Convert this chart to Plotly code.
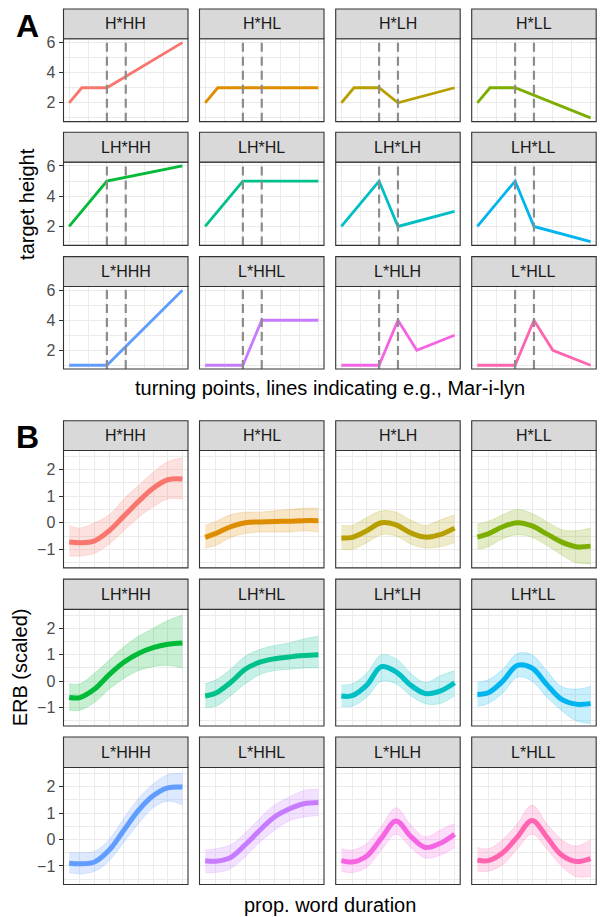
import plotly.graph_objects as go

W, H = 600, 917

facets = ["H*HH", "H*HL", "H*LH", "H*LL",
          "LH*HH", "LH*HL", "LH*LH", "LH*LL",
          "L*HHH", "L*HHL", "L*HLH", "L*HLL"]
colors = ["#F8766D", "#DE8C00", "#B79F00", "#7CAE00", "#00BA38", "#00C08B",
          "#00BFC4", "#00B4F0", "#619CFF", "#C77CFF", "#F564E3", "#FF64B0"]

# ---- Panel A: target heights at turning points ----
tp_x = [[0, 0.67, 2, 6], [0, 0.67, 6], [0, 0.67, 2, 3, 6], [0, 0.67, 2, 6],
        [0, 2, 6], [0, 2, 6], [0, 2, 3, 6], [0, 2, 3, 6],
        [0, 2, 6], [0, 2, 3, 6], [0, 2, 3, 4, 6], [0, 2, 3, 4, 6]]
tp_y = [[2, 3, 3, 6], [2, 3, 3], [2, 3, 3, 2, 3], [2, 3, 3, 1],
        [2, 5, 6], [2, 5, 5], [2, 5, 2, 3], [2, 5, 2, 1],
        [1, 1, 6], [1, 1, 4, 4], [1, 1, 4, 2, 3], [1, 1, 4, 2, 1]]
seg_lines = [2, 3]
a_yticks = [2, 4, 6]
a_yminor = [1, 3, 5]
a_xgrid = [0, 1, 2, 3, 4, 5, 6]

# ---- Panel B: ERB contours (mean and spread envelope) ----
b_x = [0.033, 0.125, 0.25, 0.375, 0.5, 0.625, 0.75, 0.875, 1.0]
b_mean = [
    [-0.72, -0.75, -0.68, -0.30, 0.25, 0.80, 1.30, 1.62, 1.65],
    [-0.55, -0.40, -0.15, 0.00, 0.03, 0.05, 0.06, 0.08, 0.08],
    [-0.57, -0.55, -0.30, 0.00, -0.08, -0.38, -0.54, -0.45, -0.20],
    [-0.54, -0.42, -0.15, 0.00, -0.12, -0.42, -0.72, -0.90, -0.88],
    [-0.62, -0.62, -0.30, 0.25, 0.72, 1.05, 1.27, 1.40, 1.45],
    [-0.56, -0.45, -0.05, 0.45, 0.72, 0.85, 0.92, 0.97, 1.00],
    [-0.56, -0.55, -0.15, 0.55, 0.35, -0.15, -0.47, -0.38, -0.06],
    [-0.50, -0.44, 0.00, 0.60, 0.50, -0.12, -0.68, -0.87, -0.85],
    [-0.90, -0.92, -0.85, -0.40, 0.35, 1.10, 1.65, 1.95, 1.98],
    [-0.80, -0.82, -0.68, -0.20, 0.35, 0.85, 1.15, 1.35, 1.40],
    [-0.80, -0.85, -0.62, 0.05, 0.70, 0.12, -0.30, -0.15, 0.20],
    [-0.78, -0.80, -0.50, 0.10, 0.72, 0.10, -0.58, -0.83, -0.72],
]
b_lower = [
    [-1.25, -1.25, -1.15, -0.80, -0.30, 0.20, 0.60, 0.90, 0.90],
    [-0.95, -0.85, -0.55, -0.40, -0.35, -0.35, -0.35, -0.30, -0.35],
    [-1.00, -1.00, -0.75, -0.45, -0.50, -0.80, -0.95, -0.90, -0.75],
    [-1.00, -0.90, -0.60, -0.45, -0.55, -0.85, -1.20, -1.50, -1.55],
    [-1.10, -1.10, -0.80, -0.30, 0.10, 0.40, 0.55, 0.60, 0.50],
    [-1.00, -0.95, -0.55, -0.10, 0.25, 0.40, 0.45, 0.50, 0.50],
    [-0.95, -0.95, -0.60, 0.00, -0.10, -0.55, -0.85, -0.85, -0.55],
    [-0.95, -0.85, -0.45, 0.15, 0.00, -0.60, -1.10, -1.50, -1.60],
    [-1.25, -1.30, -1.20, -0.80, -0.10, 0.60, 1.20, 1.45, 1.30],
    [-1.25, -1.25, -1.10, -0.65, -0.10, 0.35, 0.70, 0.85, 0.90],
    [-1.20, -1.25, -1.05, -0.40, 0.20, -0.30, -0.70, -0.60, -0.30],
    [-1.20, -1.20, -0.95, -0.35, 0.20, -0.35, -1.00, -1.40, -1.40],
]
b_upper = [
    [-0.10, -0.20, 0.00, 0.30, 0.90, 1.40, 1.90, 2.30, 2.45],
    [-0.10, 0.05, 0.30, 0.40, 0.40, 0.45, 0.50, 0.55, 0.55],
    [-0.10, -0.10, 0.20, 0.45, 0.40, 0.10, -0.10, 0.10, 0.30],
    [-0.05, 0.05, 0.30, 0.50, 0.35, 0.05, -0.25, -0.30, -0.20],
    [-0.10, -0.10, 0.30, 0.80, 1.30, 1.70, 2.00, 2.30, 2.50],
    [-0.10, 0.05, 0.45, 0.95, 1.20, 1.35, 1.45, 1.60, 1.70],
    [-0.15, -0.10, 0.30, 1.00, 0.85, 0.30, -0.05, 0.20, 0.40],
    [-0.05, 0.05, 0.45, 1.05, 1.00, 0.40, -0.20, -0.30, -0.20],
    [-0.50, -0.50, -0.45, 0.00, 0.80, 1.55, 2.10, 2.45, 2.50],
    [-0.40, -0.35, -0.20, 0.25, 0.80, 1.30, 1.60, 1.85, 1.90],
    [-0.35, -0.40, -0.15, 0.50, 1.20, 0.55, 0.10, 0.35, 0.60],
    [-0.30, -0.35, 0.00, 0.60, 1.30, 0.60, 0.00, -0.25, 0.00],
]
b_yticks = [-1, 0, 1, 2]
b_yminor = [-1.5, -0.5, 0.5, 1.5, 2.5]
b_xgrid = [0.125, 0.25, 0.375, 0.5, 0.625, 0.75, 0.875, 1.0]

FONT = "Liberation Sans, Arial, Helvetica, sans-serif"
GRID = "#ebebeb"
DARK = "#333333"

col_left = [63.5, 199.5, 335.7, 471.7]
col_w = 124.5
a_rows = [(4, 34, 117.3), (128, 158, 241.7), (253, 283, 366)]
b_rows = [(418, 448, 566), (577.3, 607.7, 725), (736, 766.7, 884.3)]


def px(x):
    return x / W


def py(y):
    return 1 - y / H


def rgba(hexc, a):
    h = hexc.lstrip("#")
    return "rgba(%d,%d,%d,%.3f)" % (int(h[0:2], 16), int(h[2:4], 16), int(h[4:6], 16), a)


fig = go.Figure()
layout = dict(width=W, height=H, margin=dict(l=0, r=0, t=0, b=0),
              paper_bgcolor="white", plot_bgcolor="white", showlegend=False,
              font=dict(family=FONT))
shapes = []
annotations = []

k = 0
for panel in ("A", "B"):
    rows = a_rows if panel == "A" else b_rows
    for i, name in enumerate(facets):
        k += 1
        r, c = divmod(i, 4)
        s0, p0, p1 = rows[r]
        x0 = col_left[c]
        x1 = x0 + col_w
        suf = "" if k == 1 else str(k)
        xa = "x" + suf
        ya = "y" + suf
        if panel == "A":
            xr = [-0.3, 6.3]
            yr = [0.75, 6.25]
            xg = a_xgrid
            yt = a_yticks
            ym = a_yminor
        else:
            xr = [-0.0155, 1.048]
            yr = [-1.70, 2.72]
            xg = b_xgrid
            yt = b_yticks
            ym = b_yminor
        layout["xaxis" + suf] = dict(
            domain=[px(x0), px(x1)], anchor=ya, range=xr,
            tickvals=xg, showticklabels=False, ticks="",
            showgrid=True, gridcolor=GRID, gridwidth=1,
            zeroline=False, showline=False, fixedrange=True)
        layout["yaxis" + suf] = dict(
            domain=[py(p1), py(p0)], anchor=xa, range=yr,
            tickvals=yt, showticklabels=(c == 0),
            ticks="outside" if c == 0 else "", ticklen=4, tickwidth=1,
            tickcolor=DARK,
            tickfont=dict(size=16, color="#4d4d4d", family=FONT),
            showgrid=True, gridcolor=GRID, gridwidth=1,
            minor=dict(tickvals=ym, showgrid=True, gridcolor=GRID, gridwidth=0.7, ticks=""),
            zeroline=False, showline=False, fixedrange=True)

        col = colors[i]
        if panel == "A":
            for sx in seg_lines:
                shapes.append(dict(type="line", xref=xa, yref=ya + " domain",
                                   x0=sx, x1=sx, y0=0, y1=1,
                                   line=dict(color="#8c8c8c", width=2.2, dash="9px,5px"),
                                   layer="above"))
            fig.add_trace(go.Scatter(x=tp_x[i], y=tp_y[i], mode="lines",
                                     line=dict(color=col, width=2.8),
                                     xaxis=xa, yaxis=ya, hoverinfo="skip"))
        else:
            fig.add_trace(go.Scatter(x=b_x, y=b_lower[i], mode="lines",
                                     line=dict(color=rgba(col, 0.25), width=0.8, shape="spline"),
                                     xaxis=xa, yaxis=ya, hoverinfo="skip"))
            fig.add_trace(go.Scatter(x=b_x, y=b_upper[i], mode="lines",
                                     line=dict(color=rgba(col, 0.25), width=0.8, shape="spline"),
                                     fill="tonexty", fillcolor=rgba(col, 0.22),
                                     xaxis=xa, yaxis=ya, hoverinfo="skip"))
            fig.add_trace(go.Scatter(x=b_x, y=b_mean[i], mode="lines",
                                     line=dict(color=col, width=5, shape="spline"),
                                     xaxis=xa, yaxis=ya, hoverinfo="skip"))

        # panel border
        shapes.append(dict(type="rect", xref="paper", yref="paper",
                           x0=px(x0), x1=px(x1), y0=py(p1), y1=py(p0),
                           line=dict(color=DARK, width=1.1), fillcolor="rgba(0,0,0,0)",
                           layer="above"))
        # strip
        shapes.append(dict(type="rect", xref="paper", yref="paper",
                           x0=px(x0), x1=px(x1), y0=py(p0), y1=py(s0),
                           line=dict(color=DARK, width=1.1), fillcolor="#d9d9d9",
                           layer="above"))
        annotations.append(dict(text=name, xref="paper", yref="paper",
                                x=px((x0 + x1) / 2), y=py((s0 + p0) / 2),
                                xanchor="center", yanchor="middle", showarrow=False,
                                font=dict(size=16, color="#1a1a1a", family=FONT)))

# titles and panel letters
annotations += [
    dict(text="<b>A</b>", x=px(27), y=py(21), xref="paper", yref="paper",
         xanchor="center", yanchor="middle", showarrow=False,
         font=dict(size=32, color="black", family=FONT)),
    dict(text="<b>B</b>", x=px(27), y=py(434), xref="paper", yref="paper",
         xanchor="center", yanchor="middle", showarrow=False,
         font=dict(size=32, color="black", family=FONT)),
    dict(text="target height", x=px(27), y=py(200), xref="paper", yref="paper",
         xanchor="center", yanchor="middle", showarrow=False, textangle=-90,
         font=dict(size=20, color="black", family=FONT)),
    dict(text="ERB (scaled)", x=px(20), y=py(666), xref="paper", yref="paper",
         xanchor="center", yanchor="middle", showarrow=False, textangle=-90,
         font=dict(size=20, color="black", family=FONT)),
    dict(text="turning points, lines indicating e.g., Mar-i-lyn", x=px(330), y=py(385),
         xref="paper", yref="paper", xanchor="center", yanchor="middle", showarrow=False,
         font=dict(size=20, color="black", family=FONT)),
    dict(text="prop. word duration", x=px(330), y=py(905),
         xref="paper", yref="paper", xanchor="center", yanchor="middle", showarrow=False,
         font=dict(size=20, color="black", family=FONT)),
]

layout["shapes"] = shapes
layout["annotations"] = annotations
fig.update_layout(**layout)
fig.write_html("out.html", config={"displayModeBar": False},
               post_script="document.body.style.margin='0';document.body.style.padding='0';")
